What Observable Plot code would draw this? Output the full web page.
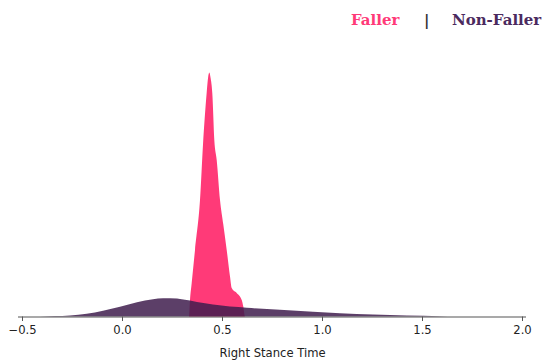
<!DOCTYPE html>
<html>
<head>
<meta charset="utf-8">
<script src="https://cdn.jsdelivr.net/npm/d3@7"></script>
<script src="https://cdn.jsdelivr.net/npm/@observablehq/plot@0.6"></script>
<style>
  html, body { margin: 0; padding: 0; background: #fff; }
  #wrap { width: 544px; }
  #legend { position: relative; width: 544px; height: 40px; font-family: "DejaVu Serif", serif; font-weight: bold; font-size: 15px; line-height: 15px; }
  #legend span { position: absolute; top: 13px; white-space: nowrap; }
</style>
</head>
<body>
<div id="wrap">
  <div id="legend">
    <span style="left:351px;color:#ff3a78">Faller</span>
    <span style="left:424px;color:#333">|</span>
    <span style="left:452px;color:#4b2a5e">Non-Faller</span>
  </div>
  <div id="chart"></div>
</div>
<script>
// Faller density curve (x = Right Stance Time, y = density)
const fallerX = [0.33, 0.335, 0.34, 0.3485, 0.365, 0.39, 0.405, 0.4235, 0.4305, 0.4365, 0.4425, 0.4515, 0.4615, 0.4735, 0.49, 0.5065, 0.5235, 0.54, 0.5485, 0.5735, 0.5985, 0.6065, 0.615, 0.62];
const fallerY = [0, 0, 0.83, 1.68, 3.33, 5.83, 8.6, 11.2, 11.95, 12.2, 11.95, 11.16, 8.83, 7.83, 5.83, 4.6, 3.33, 2.0, 1.43, 1.18, 0.83, 0.5, 0, 0];

// Non-Faller density curve
const nonFallerX = [-0.45, -0.41, -0.335, -0.26, -0.1765, -0.095, -0.01, 0.075, 0.155, 0.205, 0.275, 0.29, 0.34, 0.375, 0.455, 0.625, 0.79, 0.955, 1.09, 1.255, 1.425, 1.59, 1.665, 1.72];
const nonFallerY = [0, 0.004, 0.02, 0.055, 0.135, 0.285, 0.485, 0.715, 0.865, 0.915, 0.9, 0.875, 0.8, 0.725, 0.6, 0.435, 0.335, 0.24, 0.16, 0.1, 0.05, 0.015, 0, 0];

const xTicks = [-0.5, 0.0, 0.5, 1.0, 1.5, 2.0];
const xLabel = "Right Stance Time";

const faller = fallerX.map((x, i) => ({x, y: fallerY[i]}));
const nonFaller = nonFallerX.map((x, i) => ({x, y: nonFallerY[i]}));

const chart = Plot.plot({
  width: 544,
  height: 323,
  marginLeft: 18,
  marginRight: 18,
  marginTop: 6.5,
  marginBottom: 46.5,
  style: {fontFamily: "DejaVu Sans, sans-serif", fontSize: "11.6px", color: "#222", background: "#fff"},
  x: {domain: [-0.52, 2.02]},
  y: {domain: [0, 13.5], axis: null},
  marks: [
    Plot.areaY(faller, {x: "x", y: "y", fill: "#ff3a78", fillOpacity: 1, curve: "monotone-x"}),
    Plot.areaY(nonFaller, {x: "x", y: "y", fill: "#3f1d4e", fillOpacity: 0.85, curve: "monotone-x"}),
    Plot.ruleY([0], {stroke: "#555", strokeWidth: 1.2}),
    Plot.axisX({ticks: xTicks, tickFormat: d3.format(".1f"), tickSize: 4.5, tickPadding: 4.5, stroke: "#555", label: null, fontSize: 11.6}),
    Plot.text([xLabel], {frameAnchor: "bottom", dy: 39.5, fontSize: 11.6, fill: "#222"})
  ]
});
document.getElementById("chart").appendChild(chart);
</script>
</body>
</html>
